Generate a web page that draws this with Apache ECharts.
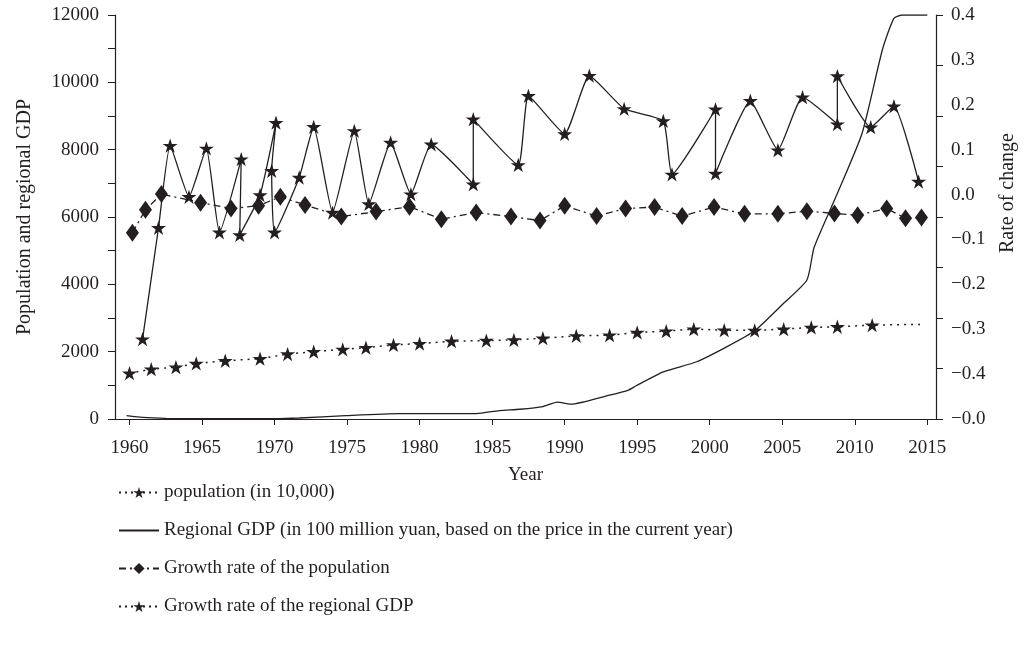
<!DOCTYPE html>
<html>
<head>
<meta charset="utf-8">
<script src="https://cdn.jsdelivr.net/npm/echarts@6/dist/echarts.min.js"></script>
<style>
  html, body { margin: 0; padding: 0; background: #fff; }
  #main { width: 1026px; height: 661px; }
</style>
</head>
<body>
<div id="main"></div>
<script>
// values (x = year, markers sit at uneven years)
var yearTicks = [1960, 1965, 1970, 1975, 1980, 1985, 1990, 1995, 2000, 2005, 2010, 2015];
var leftTicks = [0, 2000, 4000, 6000, 8000, 10000, 12000];
var rateLabels = ['\u22120.0', '\u22120.4', '\u22120.3', '\u22120.2', '\u22120.1', '0.0', '0.1', '0.2', '0.3', '0.4'];

// population (in 10,000)
var popYears = [1960, 1961.5, 1963.2, 1964.6, 1966.6, 1969.0, 1970.9, 1972.7, 1974.7, 1976.3, 1978.2, 1980.0, 1982.2, 1984.6,
    1986.5, 1988.5, 1990.8, 1993.1, 1995.0, 1997.0, 1998.9, 2001.0, 2003.1, 2005.1, 2007.0, 2008.8, 2011.2, 2014.5];
var popValues = [1360, 1480, 1540, 1650, 1730, 1790, 1930, 2000, 2070, 2120, 2200, 2240, 2310, 2330,
    2350, 2400, 2470, 2490, 2570, 2610, 2670, 2640, 2630, 2670, 2720, 2740, 2790, 2810];

// regional GDP (in 100 million yuan)
var gdpYears = [1959.8, 1960.9, 1962.5, 1965, 1970, 1971.7, 1974.9, 1978.6, 1983.9, 1985.5, 1986.9, 1988.5, 1989.5, 1990.4,
    1993.1, 1994.4, 1994.9, 1996.8, 1999.1, 2001.2, 2003.1, 2005.1, 2006.7, 2007.2, 2008.7, 2010.5, 2011.9, 2012.7, 2013.3, 2015.0];
var gdpValues = [100, 50, 20, 10, 10, 30, 100, 160, 160, 250, 290, 370, 500, 440,
    710, 860, 980, 1400, 1700, 2150, 2620, 3440, 4130, 5100, 6600, 8480, 10960, 11900, 12000, 12000];

// growth rate of the population
var pgYears = [1960.2, 1961.1, 1962.2, 1964.9, 1967.0, 1968.9, 1970.4, 1972.1, 1974.6, 1977.0, 1979.3, 1981.5, 1983.9, 1986.3, 1988.3,
    1990.0, 1992.2, 1994.2, 1996.2, 1998.1, 2000.3, 2002.4, 2004.7, 2006.7, 2008.6, 2010.2, 2012.2, 2013.5, 2014.6];
var pgValues = [-0.085, -0.034, 0.001, -0.018, -0.031, -0.025, -0.005, -0.023, -0.049, -0.038, -0.027, -0.055, -0.040, -0.049, -0.058,
    -0.025, -0.048, -0.031, -0.028, -0.048, -0.028, -0.043, -0.043, -0.037, -0.042, -0.046, -0.031, -0.053, -0.051];

// growth rate of the regional GDP (in drawing order)
var ggYears = [1960.9, 1962.0, 1962.8, 1964.1, 1965.3, 1966.2, 1967.7, 1967.6, 1969.0, 1970.1, 1969.8, 1970.0, 1971.7, 1972.7,
    1974.0, 1975.5, 1976.5, 1978.0, 1979.4, 1980.8, 1983.7, 1983.7, 1986.8, 1987.5, 1990.0, 1991.7, 1994.1, 1996.8, 1997.4,
    2000.4, 2000.4, 2002.8, 2004.7, 2006.4, 2008.8, 2008.8, 2011.1, 2012.7, 2014.4];
var ggValues = [-0.322, -0.074, 0.109, -0.005, 0.103, -0.084, 0.079, -0.090, -0.001, 0.160, 0.053, -0.084, 0.038, 0.151,
    -0.040, 0.142, -0.021, 0.116, 0.001, 0.112, 0.023, 0.168, 0.066, 0.220, 0.135, 0.265, 0.191, 0.164, 0.045,
    0.190, 0.047, 0.209, 0.099, 0.217, 0.157, 0.264, 0.150, 0.197, 0.029];

var ink = '#231f20';
var font = 'Liberation Serif';
var star = 'path://M50 0 L61.23 34.55 L97.55 34.55 L68.16 55.9 L79.39 90.45 L50 69.1 L20.61 90.45 L31.84 55.9 L2.45 34.55 L38.77 34.55 Z';

function pairs(xs, ys) {
    var out = [];
    for (var i = 0; i < xs.length; i++) out.push([xs[i], ys[i]]);
    return out;
}
function plain(v) { return String(v); }

var popData = pairs(popYears, popValues);
popData[popData.length - 1] = { value: popData[popData.length - 1], symbol: 'none' };

var myChart = echarts.init(document.getElementById('main'));

var option = {
    animation: false,
    backgroundColor: '#fff',
    textStyle: { fontFamily: font, color: ink },
    grid: { left: 115, right: 90, top: 15, bottom: 242 },
    legend: {
        orient: 'vertical',
        left: 113,
        top: 478,
        itemWidth: 40,
        itemHeight: 14,
        itemGap: 19,
        selectedMode: false,
        textStyle: { fontFamily: font, fontSize: 19, color: ink },
        data: [
            { name: 'population (in 10,000)', lineStyle: { type: [2, 4] } },
            { name: 'Regional GDP (in 100 million yuan, based on the price in the current year)', itemStyle: { opacity: 0 } },
            { name: 'Growth rate of the population' },
            { name: 'Growth rate of the regional GDP', lineStyle: { type: [2, 4] } }
        ]
    },
    xAxis: {
        type: 'value',
        min: 1959,
        max: 2015.6,
        name: 'Year',
        nameLocation: 'middle',
        nameGap: 47,
        nameTextStyle: { fontSize: 19, color: ink },
        axisLine: { lineStyle: { color: ink, width: 1.2 } },
        axisTick: { length: 6, lineStyle: { color: ink }, customValues: yearTicks },
        axisLabel: { fontSize: 19, color: ink, margin: 20, customValues: yearTicks, formatter: plain },
        splitLine: { show: false }
    },
    yAxis: [
        {
            type: 'value',
            position: 'left',
            min: 0,
            max: 12000,
            interval: 1000,
            name: 'Population and regional GDP',
            nameLocation: 'middle',
            nameGap: 80,
            nameTextStyle: { fontSize: 20, color: ink },
            axisLine: { show: true, lineStyle: { color: ink, width: 1.2 } },
            axisTick: { show: true, length: 7, lineStyle: { color: ink } },
            axisLabel: { fontSize: 19, color: ink, margin: 16, customValues: leftTicks, formatter: plain },
            splitLine: { show: false }
        },
        {
            type: 'value',
            position: 'right',
            min: -0.5,
            max: 0.4,
            interval: 0.1,
            name: 'Rate of change',
            nameLocation: 'middle',
            nameGap: 62,
            nameTextStyle: { fontSize: 20, color: ink, padding: [0, 0, 0, 48] },
            axisLine: { show: true, lineStyle: { color: ink, width: 1.2 } },
            axisTick: { show: false },
            axisLabel: {
                fontSize: 19, color: ink, margin: 15,
                formatter: function (v) { return rateLabels[Math.round((v + 0.5) * 10)]; }
            },
            splitLine: { show: false }
        },
        {
            // the right axis ticks do not line up with its labels in the original
            type: 'value',
            position: 'right',
            min: 0,
            max: 8,
            interval: 1,
            axisLine: { show: false },
            axisTick: { show: true, length: 7, lineStyle: { color: ink } },
            axisLabel: { show: false },
            splitLine: { show: false }
        }
    ],
    series: [
        {
            name: 'population (in 10,000)',
            type: 'line',
            yAxisIndex: 0,
            data: popData,
            symbol: star,
            symbolSize: 15,
            symbolKeepAspect: true,
            itemStyle: { color: ink },
            lineStyle: { color: ink, width: 1.5, type: [2, 5] }
        },
        {
            name: 'Regional GDP (in 100 million yuan, based on the price in the current year)',
            type: 'line',
            yAxisIndex: 0,
            data: pairs(gdpYears, gdpValues),
            symbol: 'none',
            smooth: 0.2,
            itemStyle: { color: ink },
            lineStyle: { color: ink, width: 1.3 }
        },
        {
            name: 'Growth rate of the population',
            type: 'line',
            yAxisIndex: 1,
            data: pairs(pgYears, pgValues),
            symbol: 'diamond',
            symbolSize: [13, 18],
            itemStyle: { color: ink },
            lineStyle: { color: ink, width: 1.3, type: [7, 4, 2, 4] }
        },
        {
            name: 'Growth rate of the regional GDP',
            type: 'line',
            yAxisIndex: 1,
            data: pairs(ggYears, ggValues),
            symbol: star,
            symbolSize: 15,
            symbolKeepAspect: true,
            smooth: 0.15,
            itemStyle: { color: ink },
            lineStyle: { color: ink, width: 1.3 }
        }
    ]
};

myChart.setOption(option);
</script>
</body>
</html>
